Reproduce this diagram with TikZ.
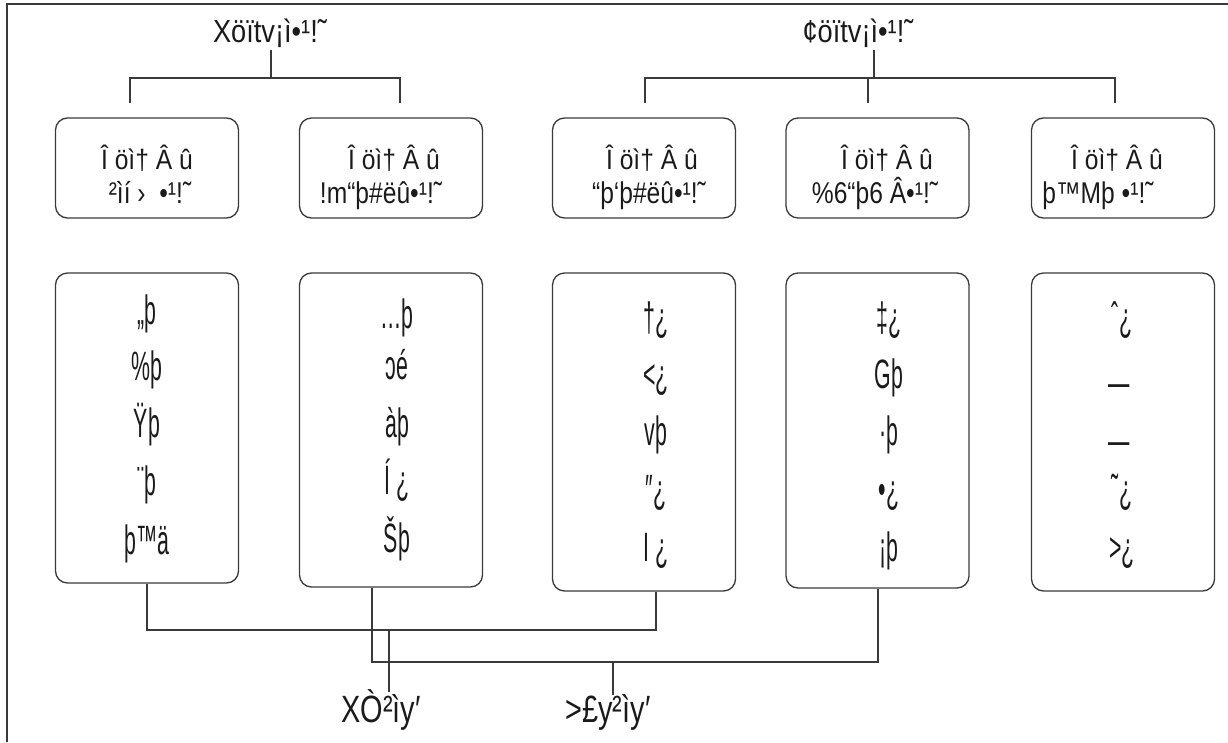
\documentclass[tikz,border=0pt]{standalone}
\usepackage{fontspec}
\setmainfont{Liberation Sans}
\newfontfamily\fTitle[FakeStretch=0.85]{Liberation Sans}
\newfontfamily\fHead[FakeStretch=0.88]{Liberation Sans}
\newfontfamily\fHeadB[FakeStretch=0.82]{Liberation Sans}
\newfontfamily\fCell[FakeStretch=0.52]{Liberation Sans}
\newfontfamily\fLab[FakeStretch=0.76]{Liberation Sans}
\definecolor{ln}{HTML}{3A3A3A}
\definecolor{tx}{HTML}{1A1A1A}
\begin{document}
\begin{tikzpicture}[x=1pt,y=-1pt,
  frame/.style={draw=ln,line width=1.5pt},
  wire/.style={draw=ln,line width=1.2pt},
  topbox/.style={draw=ln,line width=1.3pt,rounded corners=12pt,minimum width=183pt,minimum height=100pt,inner sep=0pt},
  cellbox/.style={draw=ln,line width=1.3pt,rounded corners=12pt,minimum width=183pt,inner sep=0pt},
  ttl/.style={anchor=base,inner sep=0pt,text=tx,font=\fTitle\fontsize{32}{36}\selectfont},
  hd/.style={anchor=base,inner sep=0pt,text=tx,font=\fHead\fontsize{28}{32}\selectfont},
  hdb/.style={anchor=base,inner sep=0pt,text=tx,font=\fHeadB\fontsize{30}{34}\selectfont},
  cl/.style={anchor=base,inner sep=0pt,text=tx,font=\fCell\fontsize{41}{45}\selectfont},
  lab/.style={anchor=base,inner sep=0pt,text=tx,font=\fLab\fontsize{38}{42}\selectfont}]
\useasboundingbox (0,0) rectangle (1228,742);
% frame
\draw[frame] (1228,4) -- (7,4) -- (7,742);
% titles
\node[ttl] (t1) at (270,42) {Xöïtv¡ì•¹!˜};
\node[ttl] (t2) at (858,42) {¢öïtv¡ì•¹!˜};
% top boxes
\node[topbox] (a1) at (147,168) {};
\node[topbox] (a2) at (391,168) {};
\node[topbox] (a3) at (644,168) {};
\node[topbox] (a4) at (877.5,168) {};
\node[topbox] (a5) at (1123,168) {};
\node[hd] (a1x) at (147,169) {Î öì† Â û};
\node[hd] (a2x) at (394,169) {Î öì† Â û};
\node[hd] (a3x) at (652,169) {Î öì† Â û};
\node[hd] (a4x) at (887,169) {Î öì† Â û};
\node[hd] (a5x) at (1117,169) {Î öì† Â û};
\node[hdb] (a1y) at (150,203) {²ìí ›\ \ •¹!˜};
\node[hdb] (a2y) at (381,203) {!m“þ\#ëû•¹!˜};
\node[hdb] (a3y) at (649,203) {“þ‘þ\#ëû•¹!˜};
\node[hdb] (a4y) at (875,203) {\%6“þ6 Â•¹!˜};
\node[hdb] (a5y) at (1098,203) {þ™Mþ •¹!˜};
% bottom boxes
\node[cellbox,minimum height=310pt] (b1) at (147,428) {};
\node[cellbox,minimum height=314pt] (b2) at (391,430) {};
\node[cellbox,minimum height=318pt] (b3) at (644,432) {};
\node[cellbox,minimum height=315pt] (b4) at (877.5,430.5) {};
\node[cellbox,minimum height=318pt] (b5) at (1123,432) {};
% box 1
\node[cl] (c11) at (147,324) {„þ};
\node[cl] (c12) at (147,380) {\%þ};
\node[cl] (c13) at (147,437) {Ÿþ};
\node[cl] (c14) at (147,495) {¨þ};
\node[cl] (c15) at (147,554) {þ™ä};
% box 2
\node[cl] (c21) at (397,328) {…þ};
\node[cl] (c22) at (397,379) {ɔé};
\node[cl] (c23) at (397,437) {àþ};
\node[cl] (c24) at (397,494) {Í ¿};
\node[cl] (c25) at (397,552) {Šþ};
% box 3
\node[cl] (c31) at (656,331) {†¿};
\node[cl] (c32) at (656,388) {<¿};
\node[cl] (c33) at (656,445) {vþ};
\node[cl] (c34) at (656,503) {″¿};
\node[cl] (c35) at (656,561) {I ¿};
% box 4
\node[cl] (c41) at (889,331) {‡¿};
\node[cl] (c42) at (889,388) {Gþ};
\node[cl] (c43) at (889,445) {·þ};
\node[cl] (c44) at (889,503) {•¿};
\node[cl] (c45) at (889,561) {¡þ};
% box 5
\node[cl] (c51) at (1122,331) {ˆ¿};
\node[cl] (c52) at (1119,396) {—};
\node[cl] (c53) at (1119,454) {—};
\node[cl] (c54) at (1122,503) {˜¿};
\node[cl] (c55) at (1122,561) {>¿};
% bottom labels
\node[lab] (l1) at (381,722) {XÒ²ìy′};
\node[lab] (l2) at (608,722) {>£y²ìy′};
% top brackets
\coordinate (s1) at (271,50);
\coordinate (j1) at (271,78);
\coordinate (d11) at (130,103);
\coordinate (d12) at (400,103);
\draw[wire] (s1) -- (j1);
\draw[wire] (d11) |- (j1) -| (d12);
\coordinate (s2) at (874,50);
\coordinate (j2) at (874,78);
\coordinate (d21) at (645,103);
\coordinate (d22) at (868,103);
\coordinate (d23) at (1115,103);
\draw[wire] (s2) -- (j2);
\draw[wire] (d21) |- (j2) -| (d23);
\draw[wire] (d22) -- (d22 |- j2);
% bottom connectors
\coordinate (h1) at (656,630);
\coordinate (h2) at (878,662);
\draw[wire] (b1.south) |- (h1) -- (h1 |- b3.south);
\draw[wire] ([xshift=-19pt]b2.south) |- (h2) -- (h2 |- b4.south);
\coordinate (k1) at (389,630);
\coordinate (k2) at (613,662);
\draw[wire] (k1) -- (389,692);
\draw[wire] (k2) -- (613,695);
\end{tikzpicture}
\end{document}
